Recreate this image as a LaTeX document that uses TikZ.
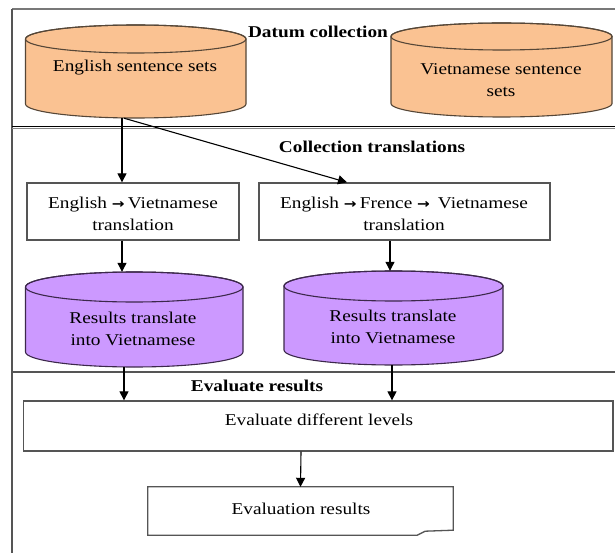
\documentclass[tikz,border=0pt]{standalone}
\usepackage{fontspec}
\usepackage{graphicx}
\setmainfont{Liberation Serif}
\newfontfamily\arrfont{DejaVu Sans}
\usetikzlibrary{arrows.meta,calc}
\definecolor{orfill}{RGB}{250,194,146}
\definecolor{ordraw}{RGB}{85,70,55}
\definecolor{pufill}{RGB}{204,153,255}
\definecolor{pudraw}{RGB}{60,40,75}
\definecolor{boxgray}{RGB}{85,85,85}
\definecolor{framegray}{RGB}{120,120,120}
\newcommand\wt[1]{\scalebox{1.17}[1]{#1}}
\newcommand\rarr{{\arrfont\bfseries\fontsize{13}{13}\selectfont →}}
\newcommand\drawcyl[7]{%
  \pgfmathsetmacro\cylcx{(#1+#2)/2}%
  \pgfmathsetmacro\cylrx{(#2-#1)/2}%
  \pgfmathsetmacro\cylyt{#3+#5}%
  \pgfmathsetmacro\cylyb{#4-#5}%
  \filldraw[fill=#6, draw=#7, line width=1.1pt]
    (#1,\cylyt) -- (#1,\cylyb)
    arc[start angle=180, end angle=0, x radius=\cylrx, y radius=#5]
    -- (#2,\cylyt)
    arc[start angle=0, end angle=-180, x radius=\cylrx, y radius=#5] -- cycle;
  \draw[draw=#7, line width=1.1pt] (\cylcx,\cylyt) ellipse[x radius=\cylrx, y radius=#5];
}
\tikzset{
  txt/.style={font=\fontsize{16.5}{22}\selectfont, align=center, inner sep=0pt},
  ttl/.style={font=\bfseries\fontsize{16.5}{20}\selectfont, inner sep=0pt},
  stepbox/.style={draw=boxgray, line width=1.3pt, fill=white, inner sep=0pt, rectangle},
  cylnode/.style={rectangle, inner sep=0pt},
  arr/.style={-{Triangle[length=9pt,width=9pt]}, line width=1.1pt, black},
}
\begin{document}
\begin{tikzpicture}[x=1pt,y=-1pt]
\useasboundingbox (0,0) rectangle (615,553);
\fill[white] (0,0) rectangle (615,553);
% frame
\coordinate (ftl) at (12,9);
\coordinate (ftr) at (615,9);
\coordinate (fbl) at (12,553);
\draw[framegray, line width=1.8pt] (ftl) -- (ftr);
\draw[boxgray, line width=1.3pt] (ftl) -- (fbl);
\draw[boxgray!70, line width=1.2pt] (12,128.4) -- (615,128.4);
\draw[black, line width=1.8pt] (12,126.5) -- (615,126.5);
\draw[boxgray, line width=1.5pt] (12,372) -- (615,372);

% section titles
\node[ttl] (t1) at (318,32) {\wt{Datum collection}};
\node[ttl] (t2) at (372,147) {\wt{Collection translations}};
\node[ttl] (t3) at (257,386) {\wt{Evaluate results}};

% cylinders
\drawcyl{25.5}{246}{25}{118}{14}{orfill}{ordraw}
\node[cylnode, minimum width=220.5pt, minimum height=93pt] (eng) at (135.75,71.5) {};
\node[txt] (engT) at (135,68) {\wt{English sentence sets}};

\drawcyl{391}{612}{23}{117}{13.5}{orfill}{ordraw}
\node[cylnode, minimum width=221pt, minimum height=94pt] (vie) at (501.5,70) {};
\node[txt] (vieT) at (501,80) {\wt{Vietnamese sentence}\\\wt{sets}};

\drawcyl{25.5}{243}{272}{367}{15}{pufill}{pudraw}
\node[cylnode, minimum width=217.5pt, minimum height=95pt] (r1) at (134.25,319.5) {};
\node[txt] (r1T) at (133,329) {\wt{Results translate}\\\wt{into Vietnamese}};

\drawcyl{284}{503}{271}{365}{15}{pufill}{pudraw}
\node[cylnode, minimum width=219pt, minimum height=94pt] (r2) at (393.5,318) {};
\node[txt] (r2T) at (393,327) {\wt{Results translate}\\\wt{into Vietnamese}};

% translation boxes
\node[stepbox, minimum width=212pt, minimum height=57pt] (b1) at (133,211.5) {};
\node[txt] (b1T) at (133,214) {\wt{English \rarr\,Vietnamese}\\\wt{translation}};
\node[stepbox, minimum width=291pt, minimum height=57pt] (b2) at (404.5,211.5) {};
\node[txt] (b2T) at (404,214) {\wt{English \rarr\,Frence \rarr\ \,Vietnamese}\\\wt{translation}};

% evaluation box
\node[stepbox, minimum width=589.5pt, minimum height=50pt] (ev) at (318.25,426) {};
\node[txt] (evT) at (319,420) {\wt{Evaluate different levels}};

% document shape
\node[cylnode, minimum width=305pt, minimum height=48pt] (doc) at (300.5,511) {};
\draw[boxgray, line width=1.3pt, fill=white]
  (doc.north west) -- (doc.north east) -- ([yshift=5pt]doc.south east)
  -- ([xshift=-28pt,yshift=4pt]doc.south east)
  -- ([xshift=-36pt]doc.south east) -- (doc.south west) -- cycle;
\node[txt] (docT) at (301,509) {\wt{Evaluation results}};

% connectors
\draw[arr] ([xshift=-13.75pt]eng.south) -- ([xshift=-11pt]b1.north);
\draw[arr] ([xshift=-11.75pt]eng.south) -- ([xshift=-57.5pt]b2.north);
\draw[arr] ([xshift=-11pt]b1.south) -- ([xshift=-12.25pt]r1.north);
\draw[arr] ([xshift=-14.5pt]b2.south) -- ([xshift=-3.5pt]r2.north);
\draw[arr] ([xshift=-10.25pt]r1.south) -- ([xshift=-194.25pt]ev.north);
\draw[arr] ([xshift=-1.5pt]r2.south) -- ([xshift=73.75pt]ev.north);
\draw[arr] ([xshift=-17.25pt]ev.south) -- (doc.north);
\end{tikzpicture}
\end{document}
